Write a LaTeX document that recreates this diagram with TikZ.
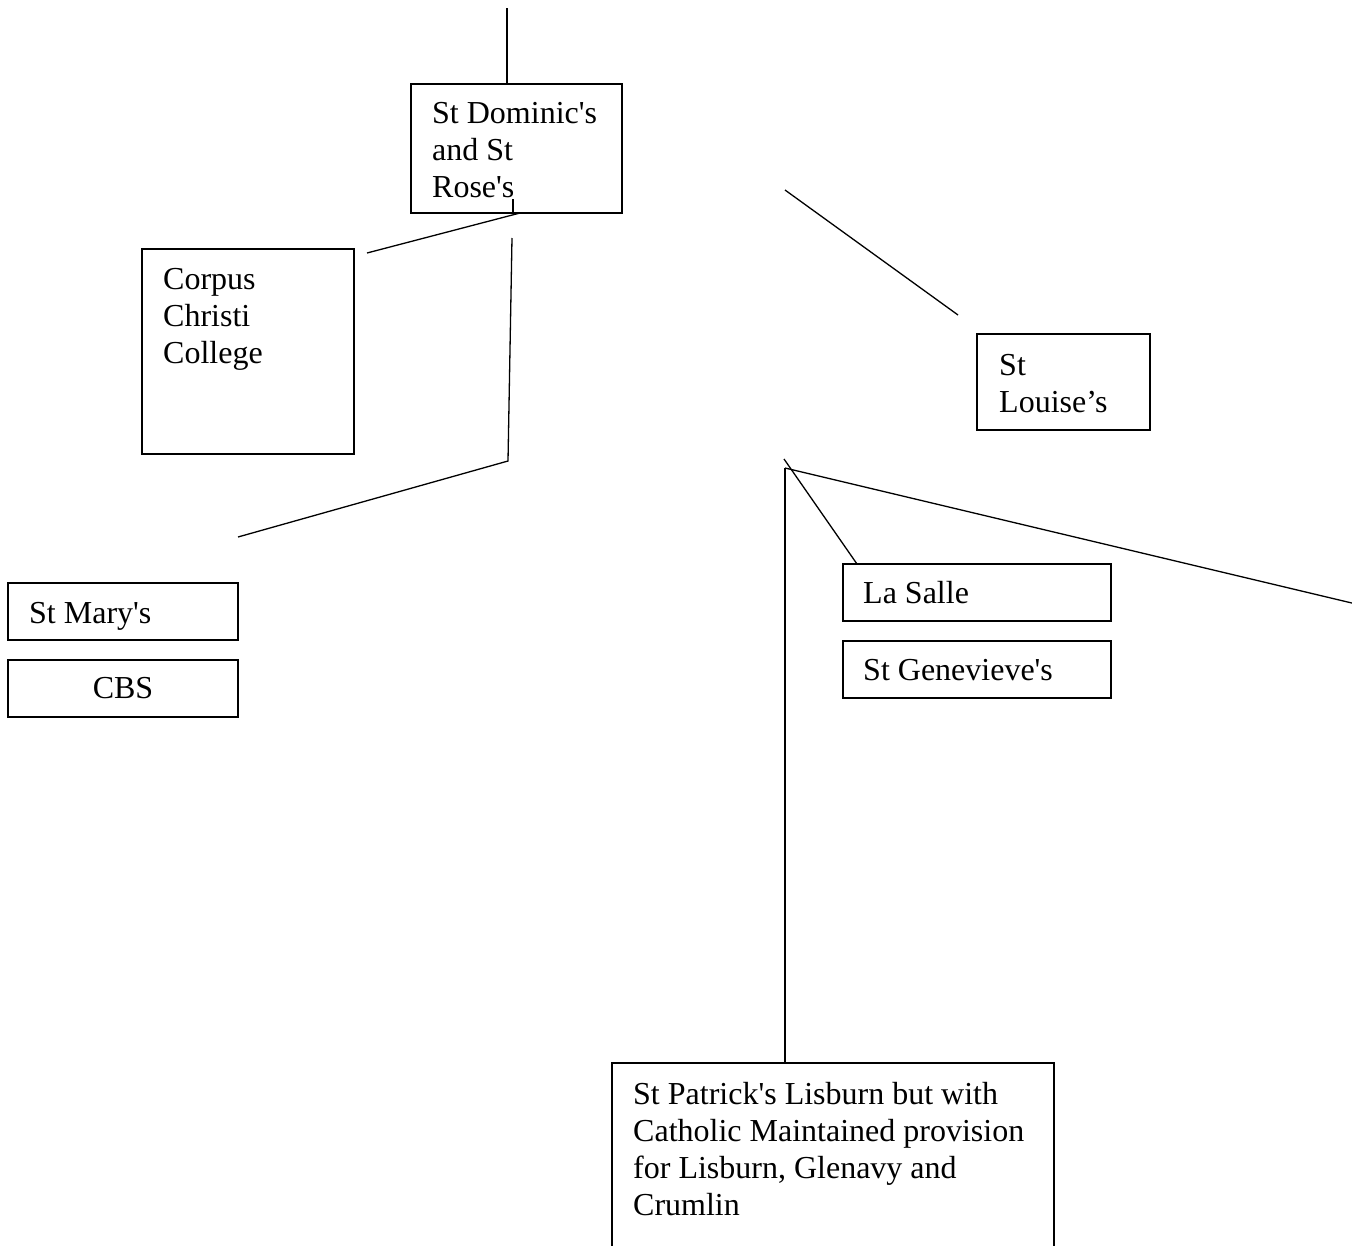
\documentclass[tikz,border=0pt]{standalone}
\usepackage{fontspec}
\setmainfont{Liberation Serif}[Ligatures=TeXOff]
\begin{document}
\begin{tikzpicture}[x=1pt,y=-1pt,
  box/.style={draw, line width=1.4pt, inner sep=0pt, outer sep=0pt, anchor=north west},
  lbl/.style={anchor=base west, inner sep=0pt, font=\fontsize{32}{37}\selectfont},
  conn/.style={line width=1.3pt}]
\useasboundingbox (0,0) rectangle (1352,1245);
\clip (0,0) rectangle (1352,1245);
\fill[white] (0,0) rectangle (1352,1245);
% boxes
\node[box, minimum width=211pt, minimum height=129pt] (dom) at (411,84) {};
\node[box, minimum width=212pt, minimum height=205pt] (cor) at (142,249) {};
\node[box, minimum width=173pt, minimum height=96pt] (lou) at (977,334) {};
\node[box, minimum width=230pt, minimum height=57pt] (mar) at (8,583) {};
\node[box, minimum width=230pt, minimum height=57pt] (cbs) at (8,660) {};
\node[box, minimum width=268pt, minimum height=57pt] (las) at (843,564) {};
\node[box, minimum width=268pt, minimum height=57pt] (gen) at (843,641) {};
\node[box, minimum width=442pt, minimum height=260pt] (pat) at (612,1063) {};
% texts
\node[lbl] (domt) at (432,123) {\parbox[t]{300pt}{St Dominic's\\and St\\Rose's}};
\node[lbl] (cort) at (163,289) {\parbox[t]{300pt}{Corpus\\Christi\\College}};
\node[lbl] (lout) at (999,375) {\parbox[t]{300pt}{St\\Louise’s}};
\node[lbl] (mart) at (29,623) {St Mary's};
\node[lbl, anchor=base] (cbst) at (123,698) {CBS};
\node[lbl] (last) at (863,603) {La Salle};
\node[lbl] (gent) at (863,680) {St Genevieve's};
\node[lbl] (patt) at (633,1104) {\parbox[t]{500pt}{St Patrick's Lisburn but with\\Catholic Maintained provision\\for Lisburn, Glenavy and\\Crumlin}};
% connector points
\coordinate (c1) at (507,8);
\coordinate (c2) at (513,199);
\coordinate (c3) at (520,213);
\coordinate (c4) at (367,253);
\coordinate (c5) at (512,238);
\coordinate (c6) at (508,461);
\coordinate (c7) at (238,537);
\coordinate (c8) at (785,190);
\coordinate (c9) at (958,315);
\coordinate (c10) at (784,459);
\coordinate (c11) at (857,564);
\coordinate (c12) at (785,468);
\coordinate (c13) at (1356,604);
% connectors
\draw[conn] (c1) -- (c1 |- dom.north);
\draw[conn] (c2) -- (c2 |- dom.south);
\draw[conn] (c3) -- (c4);
\draw[conn] (c5) -- (c6) -- (c7);
\draw[conn] (c8) -- (c9);
\draw[conn] (c10) -- (c11);
\draw[conn] (c12) -- (c12 |- pat.north);
\draw[conn] (c12) -- (c13);
\end{tikzpicture}
\end{document}
